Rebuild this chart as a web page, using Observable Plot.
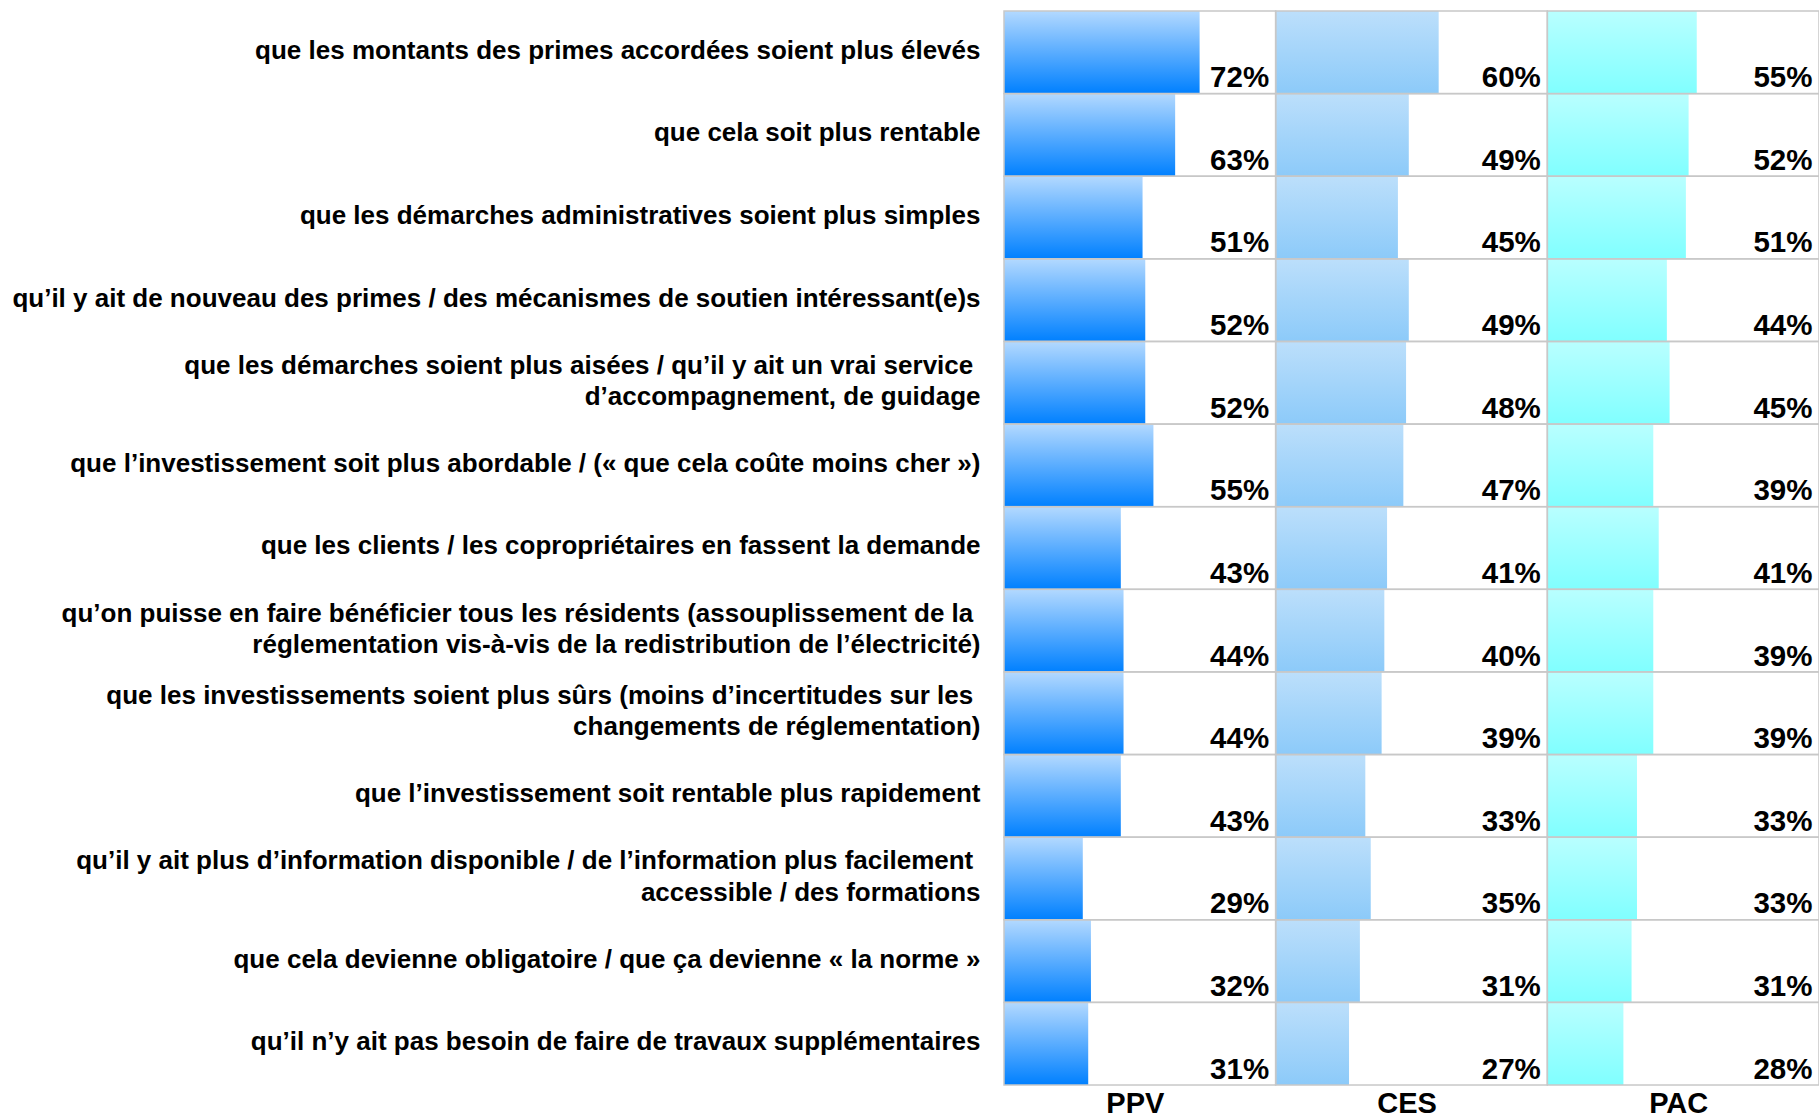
<!DOCTYPE html>
<html>
<head>
<meta charset="utf-8">
<script src="https://cdn.jsdelivr.net/npm/d3@7"></script>
<script src="https://cdn.jsdelivr.net/npm/@observablehq/plot@0.6"></script>
<style>
  html, body { margin: 0; padding: 0; background: #fff; }
  #chart { width: 1819px; height: 1119px; }
</style>
</head>
<body>
<div id="chart"></div>
<script>
const categories = [
  "que les montants des primes accordées soient plus élevés",
  "que cela soit plus rentable",
  "que les démarches administratives soient plus simples",
  "qu’il y ait de nouveau des primes / des mécanismes de soutien intéressant(e)s",
  "que les démarches soient plus aisées / qu’il y ait un vrai service\u00a0\nd’accompagnement, de guidage",
  "que l’investissement soit plus abordable / (« que cela coûte moins cher »)",
  "que les clients / les copropriétaires en fassent la demande",
  "qu’on puisse en faire bénéficier tous les résidents (assouplissement de la\u00a0\nréglementation vis-à-vis de la redistribution de l’électricité)",
  "que les investissements soient plus sûrs (moins d’incertitudes sur les\u00a0\nchangements de réglementation)",
  "que l’investissement soit rentable plus rapidement",
  "qu’il y ait plus d’information disponible / de l’information plus facilement\u00a0\naccessible / des formations",
  "que cela devienne obligatoire / que ça devienne « la norme »",
  "qu’il n’y ait pas besoin de faire de travaux supplémentaires"
];
const series = ["PPV", "CES", "PAC"];
const ppv = [72, 63, 51, 52, 52, 55, 43, 44, 44, 43, 29, 32, 31];
const ces = [60, 49, 45, 49, 48, 47, 41, 40, 39, 33, 35, 31, 27];
const pac = [55, 52, 51, 44, 45, 39, 41, 39, 39, 33, 33, 31, 28];

const gradients = {
  PPV: ["#b3d9ff", "#0080ff"],
  CES: ["#bcdffb", "#8ccaf9"],
  PAC: ["#b9ffff", "#80ffff"]
};

const valuesBySeries = {PPV: ppv, CES: ces, PAC: pac};
const data = [];
for (const s of series) {
  categories.forEach((c, i) => data.push({series: s, category: c, value: valuesBySeries[s][i]}));
}

const font = "'Liberation Sans', Arial, Helvetica, sans-serif";

const chart = Plot.plot({
  width: 1819,
  height: 1119,
  marginTop: 11,
  marginBottom: 34,
  marginLeft: 1004,
  marginRight: 0,
  style: {fontFamily: font, fontWeight: "bold", background: "#fff", color: "#000"},
  fx: {domain: series, padding: 0, label: null, round: false},
  x: {domain: [0, 100], axis: null},
  y: {domain: categories, padding: 0, axis: null, round: false},
  color: {type: "identity"},
  marks: [
    Plot.barX(data, {
      fx: "series", y: "category", x1: 0, x2: "value",
      fill: d => `url(#grad-${d.series})`
    }),
    Plot.cell(data, {
      fx: "series", y: "category",
      fill: "none", stroke: "#c8c8c8", strokeWidth: 1.5
    }),
    Plot.text(data, {
      fx: "series", y: "category", x: 100,
      text: d => d.value + "%",
      textAnchor: "end", dx: -7, dy: 25,
      fontSize: 29.5, fill: "#000"
    }),
    Plot.text(data.filter(d => d.series === "PPV"), {
      fx: "series", y: "category", x: 0,
      text: "category",
      textAnchor: "end", dx: -24, dy: -4,
      fontSize: 26, lineHeight: 1.2, fill: "#000"
    }),
    Plot.axisFx({
      anchor: "bottom", tickSize: 0, tickPadding: 7,
      fontSize: 29, label: null, dx: -5
    })
  ]
});

const svgEl = chart.tagName.toLowerCase() === "svg" ? chart : chart.querySelector("svg");
const defs = d3.select(svgEl).insert("defs", ":first-child");
for (const s of series) {
  const g = defs.append("linearGradient")
    .attr("id", `grad-${s}`)
    .attr("x1", 0).attr("y1", 0).attr("x2", 0).attr("y2", 1);
  g.append("stop").attr("offset", "0%").attr("stop-color", gradients[s][0]);
  g.append("stop").attr("offset", "100%").attr("stop-color", gradients[s][1]);
}

document.getElementById("chart").appendChild(chart);
</script>
</body>
</html>
